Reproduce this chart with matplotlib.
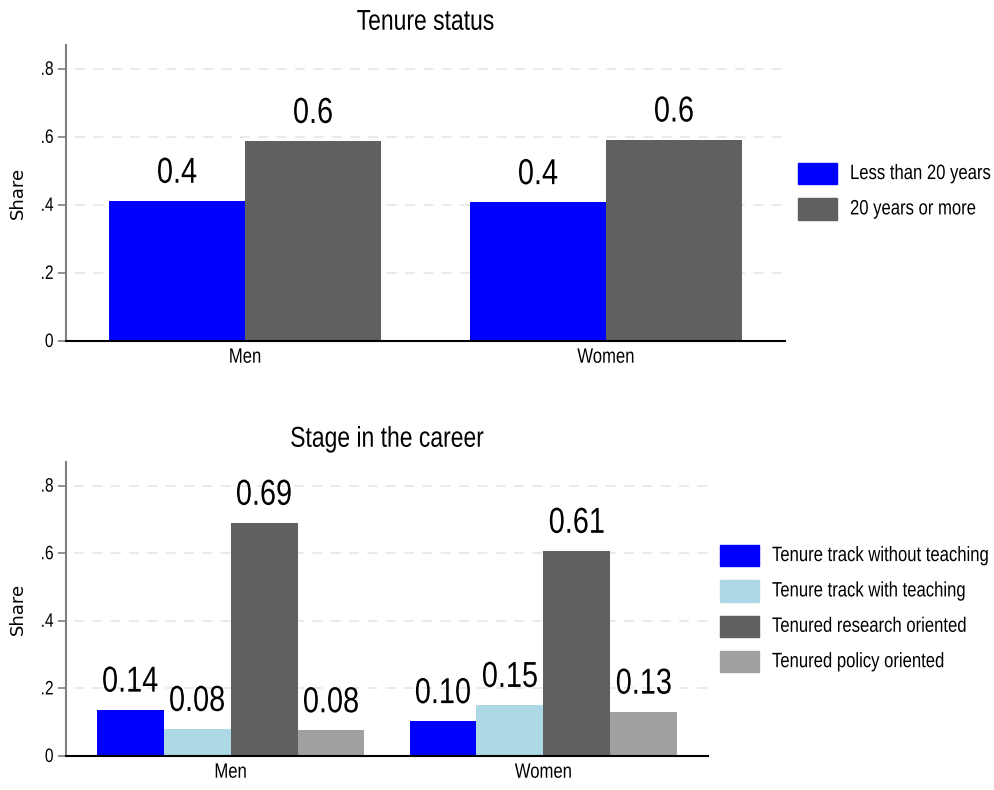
import matplotlib
matplotlib.use("Agg")
import matplotlib.pyplot as plt
import matplotlib.patches as mpatches
import numpy as np
from matplotlib.patheffects import AbstractPathEffect
from matplotlib.transforms import Affine2D

groups = ["Men", "Women"]

tenure_labels = ["Less than 20 years", "20 years or more"]
tenure_less20 = [0.412, 0.408]
tenure_20plus = [0.588, 0.592]

stage_labels = ["Tenure track without teaching", "Tenure track with teaching",
                "Tenured research oriented", "Tenured policy oriented"]
stage_tt_noteach = [0.137, 0.103]
stage_tt_teach = [0.080, 0.151]
stage_research = [0.690, 0.607]
stage_policy = [0.076, 0.131]

yticks = [0, 0.2, 0.4, 0.6, 0.8]
yticklabels = ["0", ".2", ".4", ".6", ".8"]

plt.rcParams["font.family"] = ["Liberation Sans", "DejaVu Sans"]


class Tall(AbstractPathEffect):
    """Draw glyphs stretched vertically about the baseline (narrow-font look)."""
    def __init__(self, sy=1.25):
        super().__init__()
        self.sy = sy

    def draw_path(self, renderer, gc, tpath, affine, rgbFace=None):
        t = Affine2D().scale(1.0, self.sy) + affine
        renderer.draw_path(gc, tpath, t, rgbFace)


SY = 1.25
TALL = [Tall(SY)]
fig = plt.figure(figsize=(9.95, 7.9), dpi=100)


def style_axis(ax, title, xlim):
    ax.set_ylim(0, 0.87)
    ax.set_xlim(*xlim)
    ax.set_yticks(yticks)
    ax.set_yticklabels(yticklabels, fontsize=11.2)
    ax.set_xticks(range(len(groups)))
    ax.set_xticklabels(groups, fontsize=12)
    ax.tick_params(axis="x", length=0, pad=7)
    ax.tick_params(axis="y", length=6, width=1.2, color="#808080", pad=3)
    for s in ["top", "right"]:
        ax.spines[s].set_visible(False)
    ax.spines["left"].set_color("#808080")
    ax.spines["left"].set_linewidth(1.5)
    ax.spines["bottom"].set_color("black")
    ax.spines["bottom"].set_linewidth(1.5)
    for yv in yticks[1:]:
        ax.axhline(yv, xmin=0.013, xmax=1.0, color="#e6e6e6",
                   linestyle=(0, (6, 5)), linewidth=1.2, zorder=0)
    ax.set_ylabel("Share", fontsize=13, family="DejaVu Sans", labelpad=10)
    t = ax.set_title(title, fontsize=16.5, pad=11)
    t.set_path_effects(TALL)
    for tk in ax.yaxis.get_major_ticks():
        tk.label1.set_path_effects(TALL)
    for tk in ax.xaxis.get_major_ticks():
        tk.label1.set_path_effects(TALL)


def add_legend(handles, labels, anchor):
    leg = fig.legend(handles, labels, loc="upper left", bbox_to_anchor=anchor,
                     frameon=False, fontsize=12, handlelength=2.34, handleheight=1.58,
                     handletextpad=0.78, labelspacing=0.85, borderpad=0, borderaxespad=0)
    for tx in leg.get_texts():
        tx.set_path_effects(TALL)
    return leg


x = np.arange(len(groups))

# Top panel
ax1 = fig.add_axes([66/995, 1-341/790, (785-66)/995, (341-45)/790])
w = 0.377
series1 = [tenure_less20, tenure_20plus]
colors1 = ["#0000ff", "#606060"]
for i, (vals, c) in enumerate(zip(series1, colors1)):
    pos = x + (i - 0.5) * w
    ax1.bar(pos, vals, width=w, color=c, linewidth=0, zorder=2)
    for px, v in zip(pos, vals):
        ax1.annotate(f"{v:.1f}", (px, v), xytext=(0, 13), textcoords="offset points",
                     ha="center", va="baseline", fontsize=20.8, path_effects=TALL)
style_axis(ax1, "Tenure status", (-0.496, 1.496))
h1 = [mpatches.Patch(color=c) for c in colors1]
add_legend(h1, tenure_labels, (798/995, 1-163/790))

# Bottom panel
ax2 = fig.add_axes([66/995, 1-756/790, (708-66)/995, (756-462)/790])
w2 = 0.214
series2 = [stage_tt_noteach, stage_tt_teach, stage_research, stage_policy]
colors2 = ["#0000ff", "#add8e6", "#606060", "#a0a0a0"]
for i, (vals, c) in enumerate(zip(series2, colors2)):
    pos = x + (i - 1.5) * w2
    ax2.bar(pos, vals, width=w2, color=c, linewidth=0, zorder=2)
    for px, v in zip(pos, vals):
        ax2.annotate(f"{v:.2f}", (px, v), xytext=(0, 13), textcoords="offset points",
                     ha="center", va="baseline", fontsize=20.8, path_effects=TALL)
style_axis(ax2, "Stage in the career", (-0.526, 1.526))
h2 = [mpatches.Patch(color=c) for c in colors2]
add_legend(h2, stage_labels, (720/995, 1-545/790))

fig.savefig("out.png", dpi=100)
